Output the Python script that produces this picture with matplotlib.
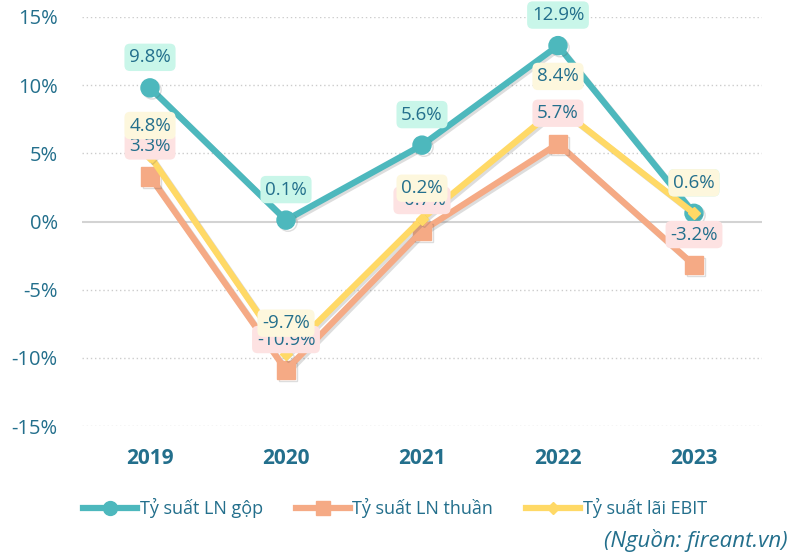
import matplotlib
matplotlib.use("Agg")
import matplotlib.pyplot as plt
import matplotlib.patheffects as pe
from matplotlib.lines import Line2D

years = ["2019", "2020", "2021", "2022", "2023"]
gross = [9.8, 0.1, 5.6, 12.9, 0.6]
net = [3.3, -10.9, -0.7, 5.7, -3.2]
ebit = [4.8, -9.7, 0.2, 8.4, 0.6]
series_names = ["Tỷ suất LN gộp", "Tỷ suất LN thuần", "Tỷ suất lãi EBIT"]
yticks = [-15, -10, -5, 0, 5, 10, 15]

plt.rcParams['font.family'] = ['Open Sans', 'DejaVu Sans']
txt_color = "#236f8c"

fig = plt.figure(figsize=(7.9, 5.58), dpi=100)
ax = fig.add_axes([82/790, 1-426/558, 680/790, 409/558])

colors = ["#4db8bd", "#f5aa85", "#ffd966"]
markers = ["o", "s", "D"]
msizes = [13, 13, 6]
bgs = ["#c9f6e9", "#fde2e2", "#fdf7dd"]
data = [gross, net, ebit]
x = list(range(len(years)))

shadow = [pe.SimpleLineShadow(offset=(1.5, -1.5), alpha=0.2, shadow_color="#555555"), pe.Normal()]
for i, (vals, c, m, ms) in enumerate(zip(data, colors, markers, msizes)):
    ax.plot(x, vals, color=c, lw=4.5, marker=m, ms=ms, mfc=c, mec=c,
            zorder=3 + i, path_effects=shadow, solid_joinstyle="miter")

for i, (vals, bg) in enumerate(zip(data, bgs)):
    for xi, v in zip(x, vals):
        ax.annotate(f"{v:.1f}%", (xi, v), xytext=(0, 22), textcoords="offset points",
                    ha="center", va="center", fontsize=13.5, color=txt_color,
                    bbox=dict(boxstyle="round,pad=0.25,rounding_size=0.3", fc=bg, ec="none"),
                    zorder=10 + i)

ax.set_xlim(-0.5, 4.5)
ax.set_ylim(-15, 15)
ax.set_yticks(yticks)
ax.set_yticklabels([f"{t}%" for t in yticks])
ax.set_xticks(x)
ax.set_xticklabels(years, fontweight="bold")
for s in ax.spines.values():
    s.set_visible(False)
ax.tick_params(axis="y", length=0, pad=17.5, labelsize=14.5, labelcolor=txt_color)
ax.tick_params(axis="x", length=0, pad=16, labelsize=15, labelcolor=txt_color)
for t in yticks:
    if t == 0:
        ax.axhline(0, color="#d3d3d3", lw=1.5, zorder=1)
    else:
        ax.axhline(t, color="#cccccc", lw=1, ls=(0, (1, 2)), zorder=1)

handles = [Line2D([0], [0], color=c, lw=4.5, marker=m, ms=ms, mfc=c, mec=c)
           for c, m, ms in zip(colors, markers, [10, 10, 6])]
leg = fig.legend(handles, series_names, loc="center", bbox_to_anchor=(395/790, 1-508/558),
                 ncol=3, frameon=False, fontsize=13, handlelength=3.0, handletextpad=0.15,
                 columnspacing=1.8)
for t in leg.get_texts():
    t.set_color(txt_color)

fig.text(788/790, 1-541/558, "(Nguồn: fireant.vn)", ha="right", va="center",
         fontsize=16, style="italic", color=txt_color)

fig.savefig("out.png", dpi=100)
